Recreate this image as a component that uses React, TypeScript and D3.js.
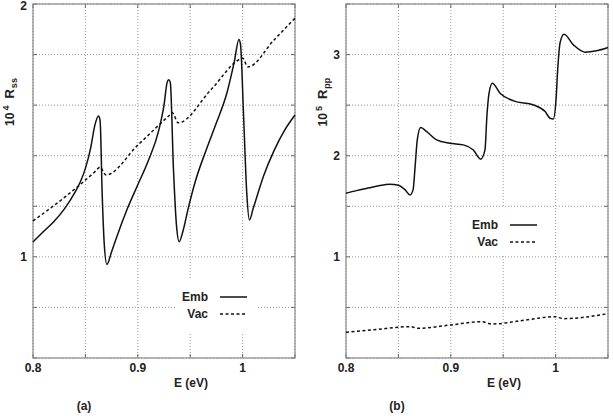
import * as d3 from 'd3'

// panel (a): 10^4 R_ss
const ssEnergy = [0.8, 0.81, 0.82, 0.83, 0.84, 0.845, 0.85, 0.855, 0.859, 0.8625, 0.864, 0.866, 0.868, 0.8705, 0.875, 0.88, 0.89, 0.9, 0.91, 0.92, 0.925, 0.928, 0.9295, 0.931, 0.934, 0.937, 0.9395, 0.943, 0.948, 0.955, 0.965, 0.975, 0.985, 0.992, 0.9965, 0.998, 1.001, 1.004, 1.0065, 1.01, 1.02, 1.03, 1.04, 1.05]
const ssEmb = [1.059, 1.1, 1.14, 1.19, 1.255, 1.295, 1.35, 1.43, 1.52, 1.557, 1.54, 1.25, 1.05, 0.97, 1.02, 1.08, 1.19, 1.285, 1.38, 1.5, 1.6, 1.69, 1.7, 1.69, 1.35, 1.12, 1.06, 1.1, 1.19, 1.3, 1.42, 1.53, 1.648, 1.77, 1.86, 1.84, 1.55, 1.25, 1.146, 1.19, 1.32, 1.42, 1.5, 1.561]
const ssVacEnergy = [0.8, 0.83, 0.86, 0.864, 0.8695, 0.9, 0.93, 0.933, 0.9385, 0.97, 0.998, 1.0, 1.005, 1.03, 1.05]
const ssVac = [1.142, 1.235, 1.34, 1.355, 1.324, 1.442, 1.559, 1.57, 1.53, 1.662, 1.783, 1.786, 1.751, 1.858, 1.944]

// panel (b): 10^5 R_pp
const ppEnergy = [0.8, 0.81, 0.82, 0.83, 0.842, 0.85, 0.8565, 0.861, 0.864, 0.866, 0.868, 0.8713, 0.877, 0.8865, 0.899, 0.912, 0.9215, 0.9285, 0.9326, 0.9345, 0.9365, 0.9396, 0.947, 0.96, 0.979, 0.99, 0.9947, 0.9978, 1.0004, 1.002, 1.0042, 1.008, 1.017, 1.028, 1.039, 1.05]
const ppEmb = [1.629, 1.655, 1.678, 1.7, 1.718, 1.708, 1.662, 1.612, 1.662, 1.9, 2.156, 2.278, 2.238, 2.156, 2.123, 2.107, 2.057, 1.965, 2.057, 2.4, 2.618, 2.717, 2.618, 2.542, 2.502, 2.436, 2.371, 2.364, 2.552, 2.85, 3.113, 3.2, 3.096, 3.024, 3.037, 3.07]
const ppVacEnergy = [0.8, 0.83, 0.861, 0.869, 0.9, 0.9295, 0.939, 0.97, 0.9994, 1.0074, 1.05]
const ppVac = [0.254, 0.283, 0.31, 0.294, 0.327, 0.359, 0.336, 0.373, 0.409, 0.389, 0.438]

const xTicks = [0.8, 0.85, 0.9, 0.95, 1.0, 1.05]
const xTickLabels = ['0.8', '', '0.9', '', '1', '']
const ssTicks = [0.6, 0.8, 1.0, 1.2, 1.4, 1.6, 1.8, 2.0]
const ssTickLabels = ['', '', '1', '', '', '', '', '2']
const ppTicks = [0, 0.5, 1, 1.5, 2, 2.5, 3, 3.5]
const ppTickLabels = ['', '', '1', '', '2', '', '3', '']
const legendNames = ['Emb', 'Vac']

const font = '"Liberation Sans", Arial, sans-serif'
const axisGrey = '#8a8a8a'

type Pt = [number, number]

interface PanelProps {
  left: number
  right: number
  yDomain: [number, number]
  yTicks: number[]
  yTickLabels: string[]
  emb: Pt[]
  vac: Pt[]
  base: string
  exp: string
  sub: string
  tag: string
  legend: { x0: number; y0: number; w: number; h: number }
}

function Panel(p: PanelProps) {
  const top = 4
  const bottom = 358
  const x = d3.scaleLinear().domain([0.8, 1.05]).range([p.left, p.right])
  const y = d3.scaleLinear().domain(p.yDomain).range([bottom, top])
  const line = d3
    .line<Pt>()
    .x((d) => x(d[0]))
    .y((d) => y(d[1]))
    .curve(d3.curveMonotoneX)
  const cx = (p.left + p.right) / 2
  const lg = p.legend
  return (
    <g>
      {xTicks.map((t, i) => (
        <g key={'x' + i}>
          <line x1={x(t)} x2={x(t)} y1={top} y2={bottom} stroke="#999" strokeWidth={1} strokeDasharray="1,2" />
          <line x1={x(t)} x2={x(t)} y1={bottom} y2={bottom - 4} stroke="#666" />
          <line x1={x(t)} x2={x(t)} y1={top} y2={top + 4} stroke="#666" />
          <text x={x(t)} y={372} textAnchor="middle" fontSize={12} fontWeight="bold" fill="#222">
            {xTickLabels[i]}
          </text>
        </g>
      ))}
      {p.yTicks.map((t, i) => (
        <g key={'y' + i}>
          <line x1={p.left} x2={p.right} y1={y(t)} y2={y(t)} stroke="#999" strokeWidth={1} strokeDasharray="1,2" />
          <line x1={p.left} x2={p.left + 4} y1={y(t)} y2={y(t)} stroke="#666" />
          <line x1={p.right} x2={p.right - 4} y1={y(t)} y2={y(t)} stroke="#666" />
          <text x={p.left - 6} y={Math.max(y(t) + 4.5, 10)} textAnchor="end" fontSize={12} fontWeight="bold" fill="#222">
            {p.yTickLabels[i]}
          </text>
        </g>
      ))}
      <rect x={lg.x0} y={lg.y0} width={lg.w} height={lg.h} fill="#fff" />
      <rect x={p.left} y={top} width={p.right - p.left} height={bottom - top} fill="none" stroke={axisGrey} strokeWidth={1.2} />
      <path d={line(p.emb) ?? ''} fill="none" stroke="#111" strokeWidth={1.5} />
      <path d={line(p.vac) ?? ''} fill="none" stroke="#111" strokeWidth={1.5} strokeDasharray="3,2.5" />
      {legendNames.map((n, i) => {
        const ly = lg.y0 + 17 + i * 17
        return (
          <g key={n}>
            <text x={lg.x0 + 33} y={ly + 4} textAnchor="end" fontSize={12} fontWeight="bold" fill="#222">
              {n}
            </text>
            <line
              x1={lg.x0 + 45}
              x2={lg.x0 + 72}
              y1={ly}
              y2={ly}
              stroke="#111"
              strokeWidth={1.5}
              strokeDasharray={i === 1 ? '3,2.5' : undefined}
            />
          </g>
        )
      })}
      <text x={cx + 27} y={387} textAnchor="middle" fontSize={12} fontWeight="bold" fill="#222">
        E (eV)
      </text>
      <text x={cx - 80} y={410} textAnchor="middle" fontSize={12} fontWeight="bold" fill="#222">
        {p.tag}
      </text>
      <text
        transform={`translate(${p.left - 19},102) rotate(-90)`}
        textAnchor="middle"
        fontSize={12}
        fontWeight="bold"
        fill="#222"
      >
        {p.base}
        <tspan dx={2} dy={-5} fontSize={9}>
          {p.exp}
        </tspan>
        <tspan dx={7} dy={5} fontSize={13}>
          R
        </tspan>
        <tspan dx={1} dy={3} fontSize={9}>
          {p.sub}
        </tspan>
      </text>
    </g>
  )
}

export default function App() {
  const zip = (a: number[], b: number[]): Pt[] => a.map((v, i) => [v, b[i]])
  return (
    <svg
      width={613}
      height={416}
      style={{ position: 'absolute', left: 0, top: 0, background: '#fff', fontFamily: font }}
    >
      <Panel
        left={33}
        right={295}
        yDomain={[0.6, 2]}
        yTicks={ssTicks}
        yTickLabels={ssTickLabels}
        emb={zip(ssEnergy, ssEmb)}
        vac={zip(ssVacEnergy, ssVac)}
        base="10"
        exp="4"
        sub="ss"
        tag="(a)"
        legend={{ x0: 175, y0: 280, w: 82, h: 53 }}
      />
      <Panel
        left={346}
        right={608}
        yDomain={[0, 3.5]}
        yTicks={ppTicks}
        yTickLabels={ppTickLabels}
        emb={zip(ppEnergy, ppEmb)}
        vac={zip(ppVacEnergy, ppVac)}
        base="10"
        exp="5"
        sub="pp"
        tag="(b)"
        legend={{ x0: 465, y0: 208, w: 82, h: 48 }}
      />
    </svg>
  )
}
